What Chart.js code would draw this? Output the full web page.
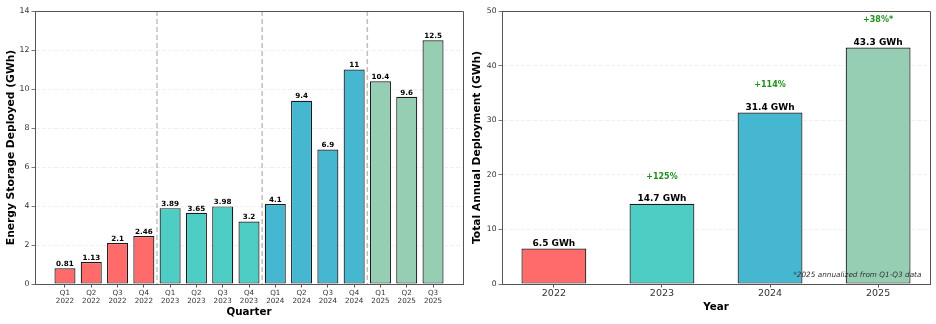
<!DOCTYPE html>
<html>
<head>
<meta charset="utf-8">
<script src="https://cdn.jsdelivr.net/npm/chart.js@4.4.1/dist/chart.umd.min.js"></script>
<style>
  html, body { margin: 0; padding: 0; background: #fff; }
  #wrap { position: relative; width: 936px; height: 324px; }
  #leftBox { position: absolute; left: 0; top: 0; width: 470px; height: 324px; }
  #rightBox { position: absolute; left: 470px; top: 0; width: 466px; height: 324px; }
</style>
</head>
<body>
<div id="wrap">
  <div id="leftBox"><canvas id="quarterChart" width="470" height="324"></canvas></div>
  <div id="rightBox"><canvas id="annualChart" width="466" height="324"></canvas></div>
</div>
<script>
// dati trimestrali
const quarterLabels = [`Q1`, `Q2`, `Q3`, `Q4`, `Q1`, `Q2`, `Q3`, `Q4`, `Q1`, `Q2`, `Q3`, `Q4`, `Q1`, `Q2`, `Q3`]
const quarterYears = [`2022`, `2022`, `2022`, `2022`, `2023`, `2023`, `2023`, `2023`, `2024`, `2024`, `2024`, `2024`, `2025`, `2025`, `2025`]
const quarterValues = [0.81, 1.13, 2.1, 2.46, 3.89, 3.65, 3.98, 3.2, 4.1, 9.4, 6.9, 11, 10.4, 9.6, 12.5]

// dati annuali
const years = [`2022`, `2023`, `2024`, `2025`]
const annualValues = [6.5, 14.7, 31.4, 43.3]
const growthLabels = [null, `+125%`, `+114%`, `+38%*`]
const footNote = `*2025 annualized from Q1-Q3 data`

const yearColors = { 2022: `#FF6B6B`, 2023: `#4ECDC4`, 2024: `#45B7D1`, 2025: `#96CEB4` }

Chart.defaults.font.family = `"DejaVu Sans", sans-serif`
Chart.defaults.color = `#222`

const spineColor = `#555`
const gridColor = `rgba(0,0,0,0.08)`
const edgeColor = `#1a1a1a`

// cornice sopra e a destra (stile matplotlib)
const drawSpines = (chart) => {
  const { ctx, chartArea: a } = chart
  ctx.save()
  ctx.strokeStyle = spineColor
  ctx.lineWidth = 1
  ctx.beginPath()
  ctx.moveTo(a.left, a.top + 0.5)
  ctx.lineTo(a.right + 0.5, a.top + 0.5)
  ctx.lineTo(a.right + 0.5, a.bottom)
  ctx.stroke()
  ctx.restore()
}

const quarterPlugin = {
  id: `quarterExtras`,
  beforeDatasetsDraw(chart) {
    const { ctx, chartArea: a, scales } = chart
    ctx.save()
    ctx.strokeStyle = `rgba(128,128,128,0.5)`
    ctx.lineWidth = 1.5
    ctx.setLineDash([5, 3])
    for (let i = 1; i < quarterYears.length; i++) {
      if (quarterYears[i] !== quarterYears[i - 1]) {
        const x = scales.x.getPixelForValue(i - 0.5)
        ctx.beginPath()
        ctx.moveTo(x, a.top)
        ctx.lineTo(x, a.bottom)
        ctx.stroke()
      }
    }
    ctx.restore()
  },
  afterDatasetsDraw(chart) {
    const { ctx, scales } = chart
    ctx.save()
    ctx.fillStyle = `#000`
    ctx.font = `bold 7.2px "DejaVu Sans"`
    ctx.textAlign = `center`
    ctx.textBaseline = `bottom`
    quarterValues.forEach((v, i) => {
      ctx.fillText(String(v), scales.x.getPixelForValue(i), scales.y.getPixelForValue(v) - 0.5)
    })
    ctx.restore()
    drawSpines(chart)
  },
}

const annualPlugin = {
  id: `annualExtras`,
  afterDatasetsDraw(chart) {
    const { ctx, chartArea: a, scales } = chart
    ctx.save()
    ctx.textAlign = `center`
    annualValues.forEach((v, i) => {
      const x = scales.x.getPixelForValue(i)
      ctx.fillStyle = `#000`
      ctx.font = `bold 9px "DejaVu Sans"`
      ctx.textBaseline = `bottom`
      ctx.fillText(`${v.toFixed(1)} GWh`, x, scales.y.getPixelForValue(v) - 0.5)
      if (growthLabels[i]) {
        ctx.fillStyle = `#1f8f1f`
        ctx.font = `bold 8px "DejaVu Sans"`
        ctx.textBaseline = `middle`
        ctx.fillText(growthLabels[i], x, scales.y.getPixelForValue(v + 5))
      }
    })
    // nota in basso a destra
    ctx.fillStyle = `#333`
    ctx.font = `italic 7.3px "DejaVu Sans"`
    ctx.textAlign = `right`
    ctx.textBaseline = `bottom`
    ctx.fillText(footNote, a.right - (a.right - a.left) * 0.02, a.bottom - (a.bottom - a.top) * 0.02)
    ctx.restore()
    drawSpines(chart)
  },
}

new Chart(document.getElementById(`quarterChart`), {
  type: `bar`,
  data: {
    datasets: [
      {
        data: quarterValues.map((v, i) => ({ x: i, y: v })),
        backgroundColor: quarterYears.map((y) => yearColors[y]),
        borderColor: edgeColor,
        borderWidth: 1.2,
        borderSkipped: false,
        barPercentage: 0.8,
        categoryPercentage: 1,
      },
    ],
  },
  options: {
    responsive: false,
    animation: false,
    layout: { padding: { left: 0, top: 11, right: 7, bottom: 0 } },
    plugins: { legend: { display: false }, tooltip: { enabled: false } },
    scales: {
      x: {
        type: `linear`,
        min: -1.14,
        max: 15.14,
        offset: false,
        afterBuildTicks: (s) => { s.ticks = quarterLabels.map((q, i) => ({ value: i })) },
        afterFit: (s) => { s.height = 40 },
        ticks: {
          autoSkip: false,
          maxRotation: 0,
          padding: 1.2,
          color: `#333`,
          font: { size: 7.2, lineHeight: 1.12 },
          callback: (v) => [quarterLabels[v], quarterYears[v]],
        },
        grid: { drawOnChartArea: false, drawTicks: true, tickLength: 3.5, tickColor: spineColor, offset: false },
        border: { color: spineColor, width: 1 },
        title: { display: true, text: `Quarter`, color: `#000`, font: { size: 10.3, weight: `bold` }, padding: { top: 0, bottom: 5.8 } },
      },
      y: {
        min: 0,
        max: 14,
        ticks: { stepSize: 2, padding: 2, color: `#333`, font: { size: 7.8 } },
        afterFit: (s) => { s.width = 35 },
        grid: { color: gridColor, lineWidth: 0.8, tickLength: 3.5, tickColor: spineColor, tickBorderDash: [] },
        border: { color: spineColor, width: 1, dash: [4, 2] },
        title: { display: true, text: `Energy Storage Deployed (GWh)`, color: `#000`, font: { size: 10.7, weight: `bold` }, padding: { top: 4.6, bottom: 0 } },
      },
    },
  },
  plugins: [quarterPlugin],
})

new Chart(document.getElementById(`annualChart`), {
  type: `bar`,
  data: {
    datasets: [
      {
        data: annualValues.map((v, i) => ({ x: i, y: v })),
        backgroundColor: years.map((y) => yearColors[y]),
        borderColor: edgeColor,
        borderWidth: 1.2,
        borderSkipped: false,
        barPercentage: 0.6,
        categoryPercentage: 1,
      },
    ],
  },
  options: {
    responsive: false,
    animation: false,
    layout: { padding: { left: 0, top: 11, right: 6, bottom: 0 } },
    plugins: { legend: { display: false }, tooltip: { enabled: false } },
    scales: {
      x: {
        type: `linear`,
        min: -0.48,
        max: 3.48,
        offset: false,
        afterBuildTicks: (s) => { s.ticks = years.map((y, i) => ({ value: i })) },
        afterFit: (s) => { s.height = 40 },
        ticks: {
          autoSkip: false,
          maxRotation: 0,
          padding: 0.8,
          color: `#333`,
          font: { size: 9.5 },
          callback: (v) => years[v],
        },
        grid: { drawOnChartArea: false, drawTicks: true, tickLength: 3.5, tickColor: spineColor, offset: false },
        border: { color: spineColor, width: 1 },
        title: { display: true, text: `Year`, color: `#000`, font: { size: 10.3, weight: `bold` }, padding: { top: 0, bottom: 10.8 } },
      },
      y: {
        min: 0,
        max: 50,
        ticks: { stepSize: 10, padding: 2, color: `#333`, font: { size: 7.6 } },
        afterFit: (s) => { s.width = 32 },
        grid: { color: gridColor, lineWidth: 0.8, tickLength: 3.5, tickColor: spineColor, tickBorderDash: [] },
        border: { color: spineColor, width: 1, dash: [4, 2] },
        title: { display: true, text: `Total Annual Deployment (GWh)`, color: `#000`, font: { size: 10.7, weight: `bold` }, padding: { top: 0.6, bottom: 0 } },
      },
    },
  },
  plugins: [annualPlugin],
})
</script>
</body>
</html>
